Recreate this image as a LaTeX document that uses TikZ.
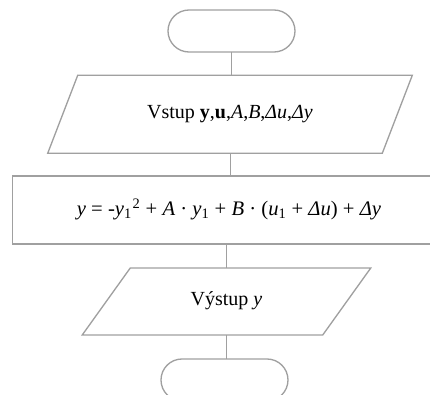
\documentclass[tikz,border=0pt]{standalone}
\usepackage{fontspec}
\setmainfont{Liberation Serif}
\usetikzlibrary{shapes.geometric,shapes.misc}
\definecolor{edgegray}{RGB}{160,160,160}
\begin{document}
\begin{tikzpicture}[x=0.75pt,y=-0.75pt,
  every node/.style={inner sep=0pt,outer sep=0pt},
  term/.style={rounded rectangle,draw=edgegray,line width=1pt,minimum width=127*0.75pt,minimum height=42*0.75pt},
  iobox/.style={trapezium,draw=edgegray,line width=1pt,trapezium stretches=true,font=\fontsize{15}{17}\selectfont},
  procbox/.style={rectangle,draw=edgegray,line width=1.2pt,font=\fontsize{15.5}{17}\selectfont},
  link/.style={draw=edgegray,line width=0.7pt}]
\useasboundingbox (0,0) rectangle (430,395);
\node[term] (start) at (231.5,31) {};
\node[iobox,trapezium left angle=47,trapezium right angle=133,minimum width=365*0.75pt,minimum height=78*0.75pt] (in) at (230,114.3)
  {\raisebox{-3.5pt}{Vstup \textbf{y},\textbf{u},\textit{A},\textit{B},\textit{Δu},\textit{Δy}}};
\node[procbox,minimum width=433*0.75pt,minimum height=68*0.75pt] (proc) at (229,210)
  {\raisebox{4.5pt}{\textit{y} = -\textit{y}\textsubscript{1}\kern0.5pt\textsuperscript{2} + \textit{A} · \textit{y}\textsubscript{1} + \textit{B} · (\textit{u}\textsubscript{1} + \textit{Δu}) + \textit{Δy}}};
\node[iobox,trapezium left angle=49,trapezium right angle=131,minimum width=289*0.75pt,minimum height=67*0.75pt] (out) at (226.5,301.5)
  {\raisebox{5pt}{Výstup \textit{y}}};
\node[term] (end) at (224.5,380) {};
\draw[link] (start.south) -- (start.south |- in.north);
\draw[link] (in.south) -- (in.south |- proc.north);
\draw[link] (proc.south -| out.north) -- (out.north);
\draw[link] (out.south) -- (out.south |- end.north);
\end{tikzpicture}
\end{document}
